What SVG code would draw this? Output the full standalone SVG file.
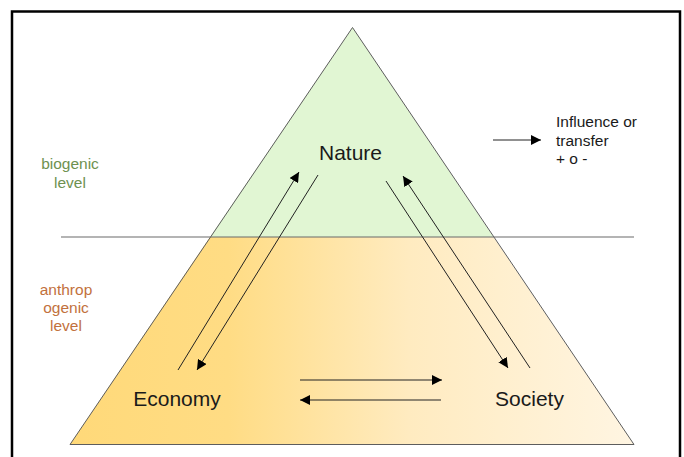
<svg xmlns="http://www.w3.org/2000/svg" width="684" height="457" viewBox="0 0 684 457">
<defs>
<linearGradient id="warm" gradientUnits="userSpaceOnUse" x1="70" y1="0" x2="634" y2="0">
<stop offset="0" stop-color="#FFD979"/>
<stop offset="0.28" stop-color="#FFDC84"/>
<stop offset="0.6" stop-color="#FFEBC0"/>
<stop offset="1" stop-color="#FFF5E2"/>
</linearGradient>
<marker id="ah" viewBox="0 0 10 10" refX="10" refY="5" markerWidth="10" markerHeight="10" markerUnits="userSpaceOnUse" orient="auto">
<path d="M0,0 L10,5 L0,10 z" fill="#000"/>
</marker>
</defs>
<style>
.lbl{font-family:"Liberation Sans","DejaVu Sans",sans-serif;fill:#1a1a1a}
.node{font-size:21px}
.leg{font-size:15.5px}
.lvl{font-size:15.5px;text-anchor:middle}
.bio{fill:#6E9150}
.anth{fill:#C2713D}
.conn line{stroke:#222;stroke-width:1;marker-end:url(#ah)}
</style>
<rect x="12" y="11.5" width="668" height="460" fill="#fff" stroke="#000" stroke-width="2.5"/>
<g id="pyramid">
<polygon points="352.5,27.5 210,237 493.5,237" fill="#E1F6D3"/>
<polygon points="210,237 493.5,237 634,444.5 70,444.5" fill="url(#warm)"/>
<polygon points="352.5,27.5 70,444.5 634,444.5" fill="none" stroke="#5d5d5d" stroke-width="1"/>
<line x1="61" y1="237" x2="634" y2="237" stroke="#6a6a6a" stroke-width="1.2"/>
</g>
<g id="level-biogenic">
<text class="lbl lvl bio" x="70" y="169">biogenic</text>
<text class="lbl lvl bio" x="70" y="188">level</text>
</g>
<g id="level-anthropogenic">
<text class="lbl lvl anth" x="66" y="295">anthrop</text>
<text class="lbl lvl anth" x="66" y="313">ogenic</text>
<text class="lbl lvl anth" x="66" y="331">level</text>
</g>
<g id="nature"><text class="lbl node" x="350.5" y="160" text-anchor="middle">Nature</text></g>
<g id="economy"><text class="lbl node" x="177" y="406" text-anchor="middle">Economy</text></g>
<g id="society"><text class="lbl node" x="529.5" y="406" text-anchor="middle">Society</text></g>
<g id="legend">
<line x1="493" y1="140" x2="541" y2="140" stroke="#222" stroke-width="1" marker-end="url(#ah)"/>
<text class="lbl leg" x="556" y="127">Influence or</text>
<text class="lbl leg" x="556" y="146">transfer</text>
<text class="lbl leg" x="556" y="164">+ o -</text>
</g>
<g id="connectors" class="conn">
<line x1="178" y1="370" x2="299" y2="172"/>
<line x1="318" y1="175" x2="197" y2="370"/>
<line x1="386" y1="181" x2="508" y2="368"/>
<line x1="530" y1="368" x2="403" y2="176"/>
<line x1="300" y1="380" x2="442" y2="380"/>
<line x1="441" y1="400" x2="300" y2="400"/>
</g>
</svg>
